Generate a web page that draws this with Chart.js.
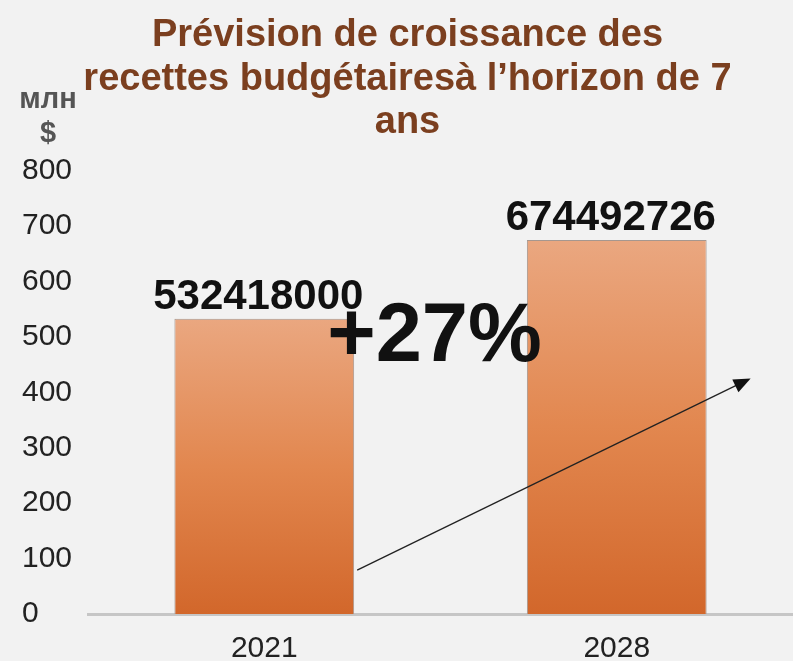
<!DOCTYPE html>
<html>
<head>
<meta charset="utf-8">
<script src="https://cdn.jsdelivr.net/npm/chart.js@4/dist/chart.umd.min.js"></script>
<style>
  html, body { margin: 0; padding: 0; background: #f2f2f2; }
  #wrap { width: 793px; height: 661px; position: relative; }
</style>
</head>
<body>
<div id="wrap"><canvas id="budget"></canvas></div>
<script>
// values in millions of dollars
var YEARS = ["2021", "2028"];
var REVENUE = [532.418, 674.492726];
var TITLE_LINES = ["Prévision de croissance des", "recettes budgétairesà l\u2019horizon de 7", "ans"];
var UNIT_LINES = ["млн", "$"];

var BAR_TOP = "#eaa780";
var BAR_BOTTOM = "#d2672b";

Chart.defaults.font.family = "'Liberation Sans', Arial, sans-serif";

function barGradient(ctx) {
    var chart = ctx.chart;
    if (!chart.chartArea || ctx.type !== "data" || !ctx.parsed) return BAR_BOTTOM;
    var y = chart.scales.y;
    var top = y.getPixelForValue(ctx.parsed.y);
    var bottom = y.getPixelForValue(0);
    var g = chart.ctx.createLinearGradient(0, top, 0, bottom);
    g.addColorStop(0, BAR_TOP);
    g.addColorStop(0.5, "#e2874f");
    g.addColorStop(1, BAR_BOTTOM);
    return g;
}

// value labels, growth text, arrow and the unit label
var notes = {
    id: "notes",
    afterDatasetsDraw: function (chart) {
        var c = chart.ctx;
        var bars = chart.getDatasetMeta(0).data;
        var y = chart.scales.y;
        c.save();

        c.fillStyle = "#111";
        c.textAlign = "center";
        c.textBaseline = "alphabetic";
        c.font = "bold 42px 'Liberation Sans', Arial, sans-serif";
        bars.forEach(function (bar, i) {
            c.fillText(String(Math.round(REVENUE[i] * 1e6)), bar.x - 6, bar.y - 10);
        });

        // arrow
        var x0 = bars[0].x + bars[0].width / 2 + 3, y0 = y.getPixelForValue(79);
        var x1 = bars[1].x + bars[1].width / 2 + 44, y1 = y.getPixelForValue(425);
        var ang = Math.atan2(y1 - y0, x1 - x0);
        c.strokeStyle = "#222";
        c.lineWidth = 1.3;
        c.beginPath();
        c.moveTo(x0, y0);
        c.lineTo(x1 - 12 * Math.cos(ang), y1 - 12 * Math.sin(ang));
        c.stroke();
        c.fillStyle = "#111";
        c.beginPath();
        c.moveTo(x1, y1);
        c.lineTo(x1 - 17 * Math.cos(ang) + 7 * Math.sin(ang), y1 - 17 * Math.sin(ang) - 7 * Math.cos(ang));
        c.lineTo(x1 - 17 * Math.cos(ang) - 7 * Math.sin(ang), y1 - 17 * Math.sin(ang) + 7 * Math.cos(ang));
        c.closePath();
        c.fill();

        // growth
        var pct = Math.round((REVENUE[1] / REVENUE[0] - 1) * 100);
        c.font = "bold 83px 'Liberation Sans', Arial, sans-serif";
        c.fillText("+" + pct + "%", (bars[0].x + bars[1].x) / 2 - 6, y.getPixelForValue(456));

        // unit
        c.fillStyle = "#555";
        c.font = "bold 29px 'Liberation Sans', Arial, sans-serif";
        c.fillText(UNIT_LINES[0], 48, 108);
        c.fillText(UNIT_LINES[1], 48, 142);
        c.restore();
    }
};

new Chart(document.getElementById("budget"), {
    type: "bar",
    data: {
        labels: YEARS,
        datasets: [{
            data: REVENUE,
            backgroundColor: barGradient,
            borderColor: "#a6978f",
            borderWidth: 1,
            categoryPercentage: 1,
            barPercentage: 0.51
        }]
    },
    options: {
        responsive: true,
        maintainAspectRatio: false,
        animation: false,
        layout: { padding: { left: 22, right: 0, top: 0, bottom: -23 } },
        plugins: {
            legend: { display: false },
            tooltip: { enabled: false },
            title: {
                display: true,
                text: TITLE_LINES,
                color: "#7b3f1f",
                font: { size: 38, weight: "bold", lineHeight: 1.145 },
                padding: { top: 14, bottom: 26 }
            }
        },
        scales: {
            x: {
                grid: { display: false, drawTicks: false },
                border: { display: true, color: "#c6c6c6", width: 3 },
                ticks: { color: "#222", font: { size: 30, lineHeight: 1 }, padding: 20 }
            },
            y: {
                min: 0,
                max: 800,
                grid: { display: false, drawTicks: false },
                border: { display: false },
                ticks: {
                    stepSize: 100,
                    color: "#222",
                    crossAlign: "far",
                    padding: 8,
                    font: { size: 30 }
                }
            }
        }
    },
    plugins: [notes]
});
</script>
</body>
</html>
